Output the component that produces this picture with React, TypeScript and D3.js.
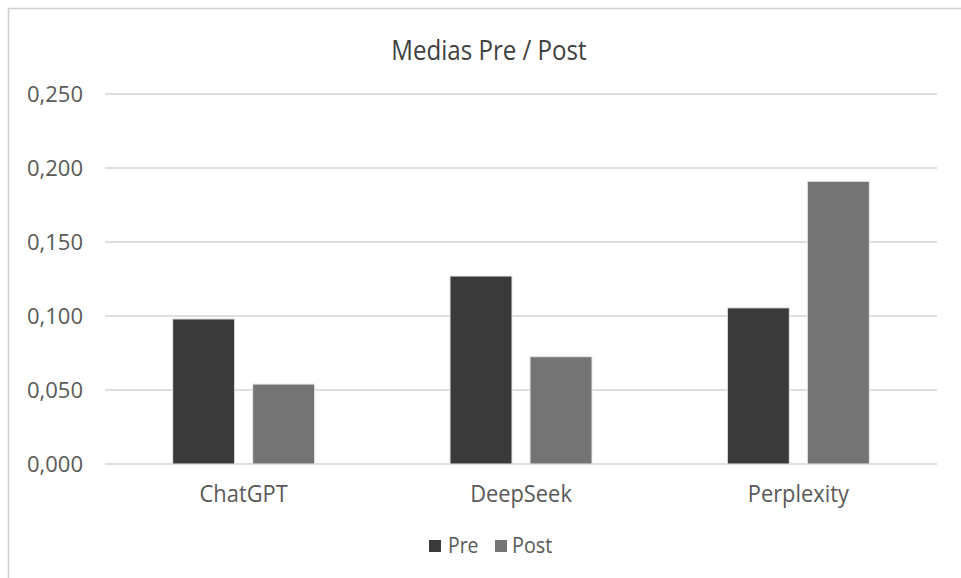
import React from "react";
import * as d3 from "d3";

const categories = ["ChatGPT", "DeepSeek", "Perplexity"];
const seriesNames = ["Pre", "Post"];
const preValues = [0.098, 0.127, 0.1055];
const postValues = [0.054, 0.0725, 0.191];
const yTicks = [0, 0.05, 0.1, 0.15, 0.2, 0.25];
const colors = ["#3a3a3a", "#747474"];

const W = 961;
const H = 578;
const margin = { left: 105, right: 24, top: 94, bottom: 114 };
const font = "'Open Sans', 'Noto Sans', sans-serif";

function T(props: {
  x: number;
  y: number;
  size: number;
  sx?: number;
  anchor?: string;
  fill?: string;
  children: React.ReactNode;
}) {
  const { x, y, size, sx = 1, anchor = "start", fill = "#595959", children } = props;
  return (
    <text
      transform={`translate(${x},${y}) scale(${sx},1)`}
      textAnchor={anchor}
      fontSize={size}
      fill={fill}
      fontFamily={font}
    >
      {children}
    </text>
  );
}

export default function App() {
  const x0 = d3
    .scaleBand<string>()
    .domain(categories)
    .range([margin.left, W - margin.right])
    .paddingInner(0.488)
    .paddingOuter(0.244);
  const x1 = d3
    .scaleBand<string>()
    .domain(seriesNames)
    .range([0, x0.bandwidth()])
    .paddingInner(0.225)
    .paddingOuter(0);
  const y = d3.scaleLinear().domain([0, 0.25]).range([H - margin.bottom, margin.top]);
  const fmt = (v: number) => d3.format(".3f")(v).replace(".", ",");
  const values = [preValues, postValues];

  return (
    <svg width={W} height={H} style={{ position: "absolute", left: 0, top: 0 }}>
      <rect x={0} y={0} width={W} height={H} fill="#fff" />
      <rect x={8.5} y={8.5} width={W + 20} height={H + 20} fill="none" stroke="#d0d0d0" strokeWidth={1.5} />
      <T x={489} y={60} size={28} sx={0.86} anchor="middle" fill="#404040">
        Medias Pre / Post
      </T>
      {yTicks.map((t) => (
        <g key={t}>
          <line x1={margin.left} x2={W - margin.right} y1={y(t)} y2={y(t)} stroke="#d4d4d4" strokeWidth={1.5} />
          <T x={83} y={y(t) + 7.5} size={22} anchor="end">
            {fmt(t)}
          </T>
        </g>
      ))}
      {categories.map((c, i) => (
        <g key={c}>
          {seriesNames.map((s, j) => (
            <rect
              key={s}
              x={(x0(c) as number) + (x1(s) as number)}
              y={y(values[j][i])}
              width={x1.bandwidth()}
              height={y(0) - y(values[j][i])}
              fill={colors[j]}
              stroke="#e6e6e6"
              strokeWidth={1}
            />
          ))}
          <T x={(x0(c) as number) + x0.bandwidth() / 2} y={502} size={23} sx={0.95} anchor="middle">
            {c}
          </T>
        </g>
      ))}
      <g>
        <rect x={429} y={540} width={12} height={12} fill={colors[0]} />
        <T x={448} y={553} size={22} sx={0.88}>Pre</T>
        <rect x={495} y={540} width={12} height={12} fill={colors[1]} />
        <T x={512} y={553} size={22} sx={0.9}>Post</T>
      </g>
    </svg>
  );
}
